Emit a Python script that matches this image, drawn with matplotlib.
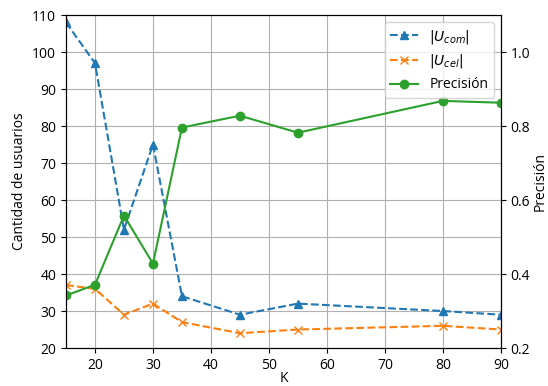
import matplotlib
matplotlib.use("Agg")
import matplotlib.pyplot as plt

plt.rcParams['font.family'] = ['Open Sans', 'DejaVu Sans']

K = [15, 20, 25, 30, 35, 45, 55, 80, 90]
U_com = [108, 97, 52, 75, 34, 29, 32, 30, 29]
U_cel = [37, 36, 29, 32, 27, 24, 25, 26, 25]
precision = [0.342, 0.371, 0.558, 0.428, 0.796, 0.828, 0.782, 0.868, 0.863]

fig, ax1 = plt.subplots(figsize=(5.48, 3.86), dpi=100)
fig.subplots_adjust(left=0.1204, right=0.914, top=0.961, bottom=0.0984)
l1, = ax1.plot(K, U_com, '--^', color='tab:blue', label=r'$|U_{com}|$')
l2, = ax1.plot(K, U_cel, '--x', color='tab:orange', label=r'$|U_{cel}|$')
ax1.set_xlim(15, 90)
ax1.set_ylim(20, 110)
ax1.set_xlabel('K', labelpad=-1)
ax1.set_ylabel('Cantidad de usuarios')
ax1.grid(True)

ax2 = ax1.twinx()
l3, = ax2.plot(K, precision, '-o', color='tab:green', label='Precisión')
ax2.set_ylim(0.2, 1.1)
ax2.set_yticks([0.2, 0.4, 0.6, 0.8, 1.0])
ax2.set_ylabel('Precisión', labelpad=2)

ax2.legend(handles=[l1, l2, l3], loc='upper right')
fig.savefig('out.png')
